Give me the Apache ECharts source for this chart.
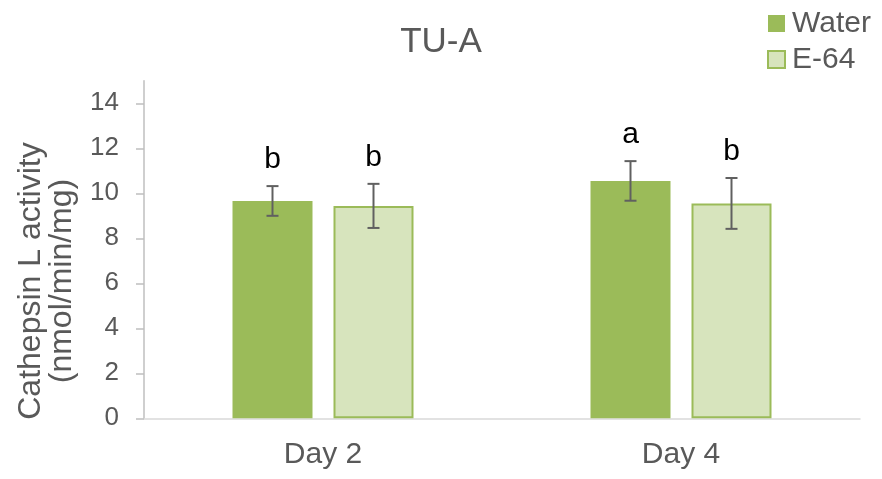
<!DOCTYPE html>
<html>
<head>
<meta charset="utf-8">
<script src="https://cdn.jsdelivr.net/npm/echarts@6/dist/echarts.min.js"></script>
<style>
  html, body { margin: 0; padding: 0; background: #fff; }
  #chart { width: 882px; height: 479px; }
</style>
</head>
<body>
<div id="chart"></div>
<script>
// Cathepsin L activity per treatment, mean ± error, with significance letters
const categories = ['Day 2', 'Day 4'];
const waterMean = [9.66, 10.55];
const waterErr = [0.66, 0.88];
const waterLetters = ['b', 'a'];
const e64Mean = [9.44, 9.55];
const e64Err = [0.98, 1.13];
const e64Letters = ['b', 'b'];
const yTicks = [0, 2, 4, 6, 8, 10, 12, 14];

const FONT = "'Liberation Sans', Arial, sans-serif";
const GREEN = '#9BBB59';
const LIGHT = '#D7E4BD';
const BAR_W = 80;
const GAP_PX = 21;
const half = (BAR_W + GAP_PX) / 2;

function errorSeries(means, errs, letters, offset) {
  return {
    type: 'custom',
    silent: true,
    clip: false,
    z: 5,
    data: means.map((m, i) => [i, m, errs[i], letters[i]]),
    renderItem: function (params, api) {
      const i = api.value(0), m = api.value(1), e = api.value(2);
      const top = api.coord([i, m + e]);
      const bot = api.coord([i, m - e]);
      const x = top[0] + offset;
      const cap = 6;
      const st = { stroke: '#606060', lineWidth: 2 };
      return {
        type: 'group',
        children: [
          { type: 'line', shape: { x1: x, y1: top[1], x2: x, y2: bot[1] }, style: st },
          { type: 'line', shape: { x1: x - cap, y1: top[1], x2: x + cap, y2: top[1] }, style: st },
          { type: 'line', shape: { x1: x - cap, y1: bot[1], x2: x + cap, y2: bot[1] }, style: st },
          { type: 'text', x: x, y: top[1] - 11,
            style: { text: letters[params.dataIndex], fill: '#000', font: '30px ' + FONT,
                     align: 'center', verticalAlign: 'bottom' } }
        ]
      };
    }
  };
}

const chart = echarts.init(document.getElementById('chart'), null, { renderer: 'canvas' });
chart.setOption({
  animation: false,
  backgroundColor: '#fff',
  textStyle: { fontFamily: FONT },
  title: {
    text: 'TU-A', left: 'center', top: 25, padding: 0,
    textStyle: { fontFamily: FONT, fontSize: 35, fontWeight: 'normal', color: '#595959' }
  },
  legend: {
    data: ['Water', 'E-64'],
    orient: 'vertical', left: 767, top: 8, padding: 0,
    itemWidth: 17, itemHeight: 17, itemGap: 5,
    icon: 'rect',
    textStyle: { fontFamily: FONT, fontSize: 30, color: '#595959', padding: [0, 0, 0, 2], lineHeight: 31 }
  },
  graphic: [{
    type: 'text', x: 47, y: 281, rotation: Math.PI / 2,
    style: { text: 'Cathepsin L activity\n(nmol/min/mg)', font: '32px ' + FONT,
             fill: '#595959', align: 'center', verticalAlign: 'middle', lineHeight: 31 }
  }],
  grid: { left: 144, right: 22, top: 80.8, bottom: 60.7 },
  xAxis: {
    type: 'category', data: categories,
    axisLine: { lineStyle: { color: '#D9D9D9', width: 1.5 } },
    axisTick: { show: false },
    axisLabel: { fontFamily: FONT, fontSize: 30, color: '#595959', margin: 21 }
  },
  yAxis: {
    type: 'value', min: 0, max: 15, interval: 1,
    axisLine: { show: true, lineStyle: { color: '#BFBFBF', width: 1.5 } },
    axisTick: { show: true, length: 8, customValues: yTicks, lineStyle: { color: '#BFBFBF', width: 1.5 } },
    axisLabel: { fontFamily: FONT, fontSize: 26, color: '#595959', margin: 25, customValues: yTicks },
    splitLine: { show: false }
  },
  series: [
    { name: 'Water', type: 'bar', data: waterMean, barWidth: BAR_W,
      barGap: (GAP_PX / BAR_W * 100) + '%',
      itemStyle: { color: GREEN } },
    { name: 'E-64', type: 'bar', data: e64Mean, barWidth: BAR_W,
      itemStyle: { color: LIGHT, borderColor: GREEN, borderWidth: 2 } },
    errorSeries(waterMean, waterErr, waterLetters, -half),
    errorSeries(e64Mean, e64Err, e64Letters, half)
  ]
});
</script>
</body>
</html>
